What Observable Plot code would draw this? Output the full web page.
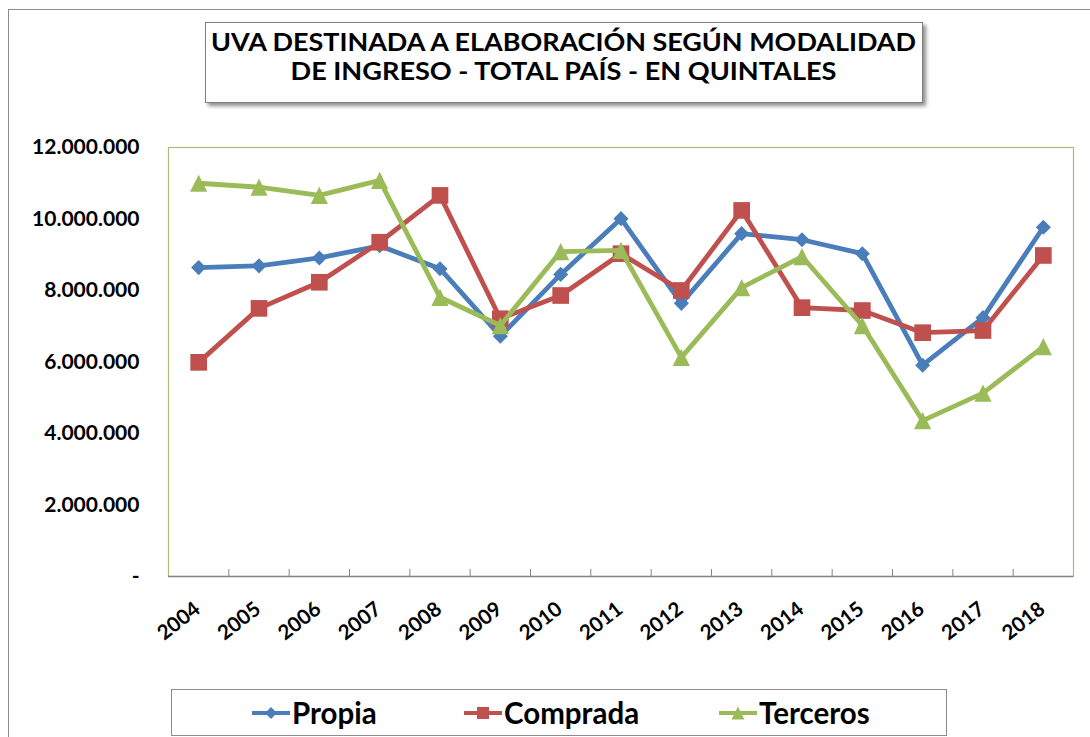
<!DOCTYPE html>
<html><head><meta charset="utf-8">
<script src="https://cdn.jsdelivr.net/npm/d3@7"></script>
<script src="https://cdn.jsdelivr.net/npm/@observablehq/plot@0.6"></script>
<style>
body{margin:0;background:#fff;}
#wrap{position:relative;width:1090px;height:737px;overflow:hidden;background:#fff;font-family:Lato, sans-serif;}
#outer{position:absolute;left:8px;top:9px;width:1200px;height:800px;border-left:1.5px solid #8c8c8c;border-top:1.5px solid #8c8c8c;}
#chart{position:absolute;left:0;top:0;}
#title{position:absolute;left:205px;top:22px;width:718px;height:81px;border:1.5px solid #7f7f7f;box-shadow:3px 3px 4px rgba(0,0,0,.45);background:#fff;box-sizing:border-box;}
#title svg{position:absolute;left:0;top:0;}
#legend{position:absolute;left:171px;top:689px;width:776px;height:47px;border:1px solid #8c8c8c;box-sizing:border-box;background:#fff;}
.item{position:absolute;top:0;height:45px;display:flex;align-items:center;font-weight:bold;font-size:29.5px;color:#000;white-space:nowrap;}
.item svg{margin-right:2px;}
</style></head>
<body>
<div id="wrap">
  <div id="outer"></div>
  <div id="chart"></div>
  <div id="title"></div>
  <div id="legend"></div>
</div>
<script>
const years = [2004,2005,2006,2007,2008,2009,2010,2011,2012,2013,2014,2015,2016,2017,2018];
const propia   = [8640000,8690000,8910000,9250000,8610000,6720000,8450000,10010000,7640000,9590000,9420000,9030000,5910000,7240000,9770000];
const comprada = [5990000,7500000,8230000,9350000,10660000,7210000,7860000,9030000,8000000,10240000,7520000,7440000,6820000,6880000,8980000];
const terceros = [11000000,10890000,10660000,11080000,7810000,7020000,9090000,9120000,6130000,8080000,8950000,7020000,4360000,5130000,6430000];
const seriesNames = ["Propia","Comprada","Terceros"];
const seriesColors = ["#4a7ebb","#c0504d","#9bbb59"];
const yTicks = [0,2000000,4000000,6000000,8000000,10000000,12000000];
const titleLines = ["UVA DESTINADA A ELABORACIÓN SEGÚN MODALIDAD","DE INGRESO - TOTAL PAÍS - EN QUINTALES"];

const locale = d3.formatLocale({decimal:",", thousands:".", grouping:[3], currency:["$",""]});
const fmt = d => d === 0 ? "-" : locale.format(",")(d);

const triangle = {draw(ctx, size){ const s = Math.sqrt(size/Math.PI); ctx.moveTo(0,-s); ctx.lineTo(s,s); ctx.lineTo(-s,s); ctx.closePath(); }};
const symbols = ["diamond2","square",triangle];
const radii = [6.8,9.4,8.6];

const allValues = [propia, comprada, terceros];
const rows = allValues.map((vals, k) => years.map((yr, i) => ({year: yr, value: vals[i], serie: seriesNames[k]})));
const mids = years.slice(0, -1).map(y => y + 0.5);

const seriesMarks = rows.flatMap((data, k) => [
  Plot.line(data, {x: "year", y: "value", stroke: seriesColors[k], strokeWidth: 4.8, strokeLinejoin: "round"}),
  Plot.dot(data, {x: "year", y: "value", fill: seriesColors[k], symbol: symbols[k], r: radii[k]})
]);

const chart = Plot.plot({
  width: 1090, height: 650,
  marginTop: 147, marginLeft: 168, marginRight: 17, marginBottom: 74,
  style: {fontFamily: "Lato", fontWeight: "bold", fontSize: "21px", color: "#000", background: "transparent", overflow: "visible"},
  x: {type: "linear", domain: [2003.5, 2018.5]},
  y: {domain: [0, 12000000]},
  marks: [
    Plot.frame({stroke: "#a4bf7a", strokeWidth: 1.2}),
    Plot.ruleY([0], {stroke: "#868686", strokeWidth: 1.5}),
    Plot.tickX(mids, {x: d => d, stroke: "#868686", insetTop: 422}),
    Plot.axisY({ticks: yTicks, tickFormat: fmt, tickSize: 0, tickPadding: 29, label: null, fontSize: 21}),
    Plot.axisX({ticks: years, tickFormat: d => String(d), tickSize: 0, tickPadding: 30, tickRotate: -38, label: null, fontSize: 20.5, dx: -1}),
    ...seriesMarks
  ]
});
const fr = chart.querySelector('g[aria-label="frame"]');
if (fr) fr.style.filter = "drop-shadow(2px 3px 2px rgba(0,0,0,0.35))";
document.getElementById("chart").appendChild(chart);

// Title
const tsvg = d3.select("#title").append("svg").attr("width", 715).attr("height", 78);
const tlen = [705, 546];
const tbase = [28.4, 56.6];
titleLines.forEach((t, i) => {
  tsvg.append("text").attr("x", 357.5).attr("y", tbase[i]).attr("text-anchor", "middle")
    .attr("font-family", "Lato").attr("font-weight", "bold").attr("font-size", 25.5)
    .attr("textLength", tlen[i]).attr("lengthAdjust", "spacingAndGlyphs").text(t);
});

// Legend
const legendLeft = [80, 292, 547];
const legend = d3.select("#legend");
seriesNames.forEach((name, k) => {
  const it = legend.append("div").attr("class", "item").style("left", legendLeft[k] + "px");
  const s = it.append("svg").attr("width", 38).attr("height", 20);
  s.append("line").attr("x1", 0).attr("x2", 38).attr("y1", 10).attr("y2", 10).attr("stroke", seriesColors[k]).attr("stroke-width", 4);
  const sym = k === 2 ? d3.symbol().type(triangle).size(Math.PI*6.5*6.5)
            : k === 1 ? d3.symbol().type(d3.symbolSquare).size(12*12)
            : d3.symbol().type(d3.symbolDiamond2).size(9.5*9.5);
  s.append("path").attr("d", sym()).attr("transform", "translate(19,10)").attr("fill", seriesColors[k]);
  it.append("span").text(name);
});
</script>
</body></html>
